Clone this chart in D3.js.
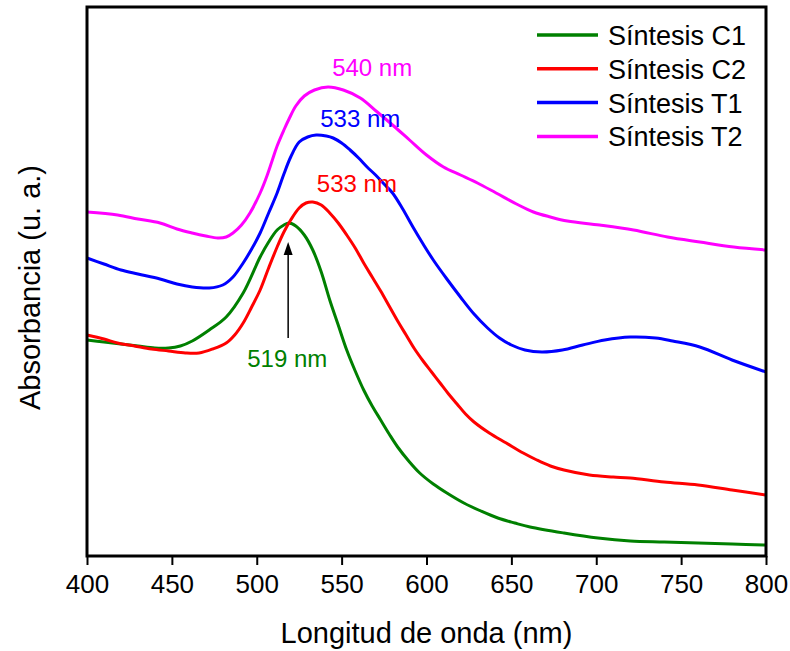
<!DOCTYPE html>
<html>
<head>
<meta charset="utf-8">
<script src="https://cdn.jsdelivr.net/npm/d3@7"></script>
<style>
  body { margin: 0; background: #fff; }
  text { font-family: 'Liberation Sans', Arial, sans-serif; }
</style>
</head>
<body>
<div class="canvas"></div>
<script>
'use strict';

// wavelength (nm) and absorbance (arbitrary units)
const wlC1 = [400, 410, 420, 430, 440, 448, 455, 462, 472, 482, 492, 502, 507, 512, 516, 519, 523, 528, 533, 538, 543, 548, 553, 558, 563, 568, 573, 578, 583, 590, 596, 604, 612, 622, 632, 642, 652, 661, 681, 701, 720, 740, 760, 780, 800];
const absC1 = [2.16, 2.14, 2.12, 2.10, 2.08, 2.08, 2.10, 2.15, 2.26, 2.39, 2.63, 2.99, 3.14, 3.26, 3.31, 3.33, 3.30, 3.21, 3.06, 2.84, 2.56, 2.31, 2.06, 1.85, 1.66, 1.50, 1.36, 1.22, 1.09, 0.94, 0.83, 0.72, 0.63, 0.53, 0.45, 0.38, 0.33, 0.29, 0.23, 0.18, 0.15, 0.14, 0.13, 0.12, 0.11];

const wlC2 = [400, 410, 418, 428, 438, 448, 458, 466, 474, 482, 487, 492, 497, 502, 507, 512, 516, 520, 525, 529, 533, 538, 543, 548, 553, 558, 563, 568, 573, 578, 583, 588, 593, 598, 603, 608, 613, 618, 623, 628, 637, 647, 657, 665, 673, 681, 696, 710, 720, 740, 760, 780, 800];
const absC2 = [2.21, 2.17, 2.13, 2.10, 2.07, 2.05, 2.03, 2.03, 2.07, 2.13, 2.21, 2.33, 2.49, 2.66, 2.88, 3.09, 3.24, 3.36, 3.48, 3.53, 3.54, 3.51, 3.43, 3.33, 3.21, 3.08, 2.93, 2.79, 2.65, 2.50, 2.35, 2.21, 2.07, 1.95, 1.84, 1.73, 1.62, 1.52, 1.42, 1.34, 1.23, 1.13, 1.03, 0.96, 0.90, 0.86, 0.81, 0.79, 0.78, 0.74, 0.71, 0.66, 0.61];

const wlT1 = [400, 410, 420, 430, 443, 453, 462, 472, 480, 486, 492, 497, 502, 507, 512, 516, 520, 525, 530, 535, 541, 545, 550, 555, 560, 565, 570, 575, 580, 586, 592, 598, 604, 612, 620, 628, 636, 643, 650, 658, 668, 680, 692, 705, 720, 735, 745, 761, 780, 800];
const absT1 = [2.98, 2.92, 2.86, 2.82, 2.77, 2.72, 2.69, 2.68, 2.71, 2.79, 2.93, 3.07, 3.23, 3.43, 3.63, 3.82, 3.99, 4.14, 4.19, 4.21, 4.20, 4.18, 4.13, 4.06, 3.98, 3.89, 3.81, 3.72, 3.63, 3.47, 3.29, 3.12, 2.96, 2.77, 2.59, 2.42, 2.28, 2.18, 2.11, 2.06, 2.04, 2.06, 2.11, 2.16, 2.19, 2.18, 2.15, 2.09, 1.96, 1.84];

const wlT2 = [400, 418, 430, 443, 453, 462, 470, 477, 482, 486, 491, 496, 502, 506, 509, 512, 516, 519, 523, 528, 534, 542, 551, 561, 571, 580, 590, 600, 610, 620, 630, 641, 653, 663, 673, 683, 702, 722, 742, 761, 781, 800];
const absT2 = [3.44, 3.41, 3.37, 3.33, 3.27, 3.23, 3.20, 3.18, 3.19, 3.23, 3.31, 3.43, 3.63, 3.80, 3.95, 4.10, 4.26, 4.37, 4.50, 4.60, 4.66, 4.69, 4.66, 4.58, 4.44, 4.31, 4.16, 4.01, 3.89, 3.81, 3.73, 3.63, 3.52, 3.44, 3.39, 3.35, 3.31, 3.26, 3.19, 3.14, 3.09, 3.06];

const seriesNames = ['Síntesis C1', 'Síntesis C2', 'Síntesis T1', 'Síntesis T2'];
const seriesColors = ['#008000', '#ff0000', '#0000ff', '#ff00ff'];
const xTicks = [400, 450, 500, 550, 600, 650, 700, 750, 800];

// peak labels: text, wavelength of label centre, absorbance of baseline
const peakLabels = ['519 nm', '533 nm', '533 nm', '540 nm'];
const peakLabelX = [518, 559, 561, 568];
const peakLabelY = [1.89, 3.64, 4.29, 4.80];

const width = 790;
const height = 651;
const margin = { top: 7, right: 24, bottom: 95, left: 87 };
const graphWidth = width - margin.left - margin.right;
const graphHeight = height - margin.top - margin.bottom;

const svg = d3
  .select('.canvas')
  .append('svg')
  .attr('width', width)
  .attr('height', height);

const graph = svg
  .append('g')
  .attr('transform', `translate(${margin.left},${margin.top})`);

const x = d3.scaleLinear().domain([400, 800]).range([0, graphWidth]);
const y = d3.scaleLinear().domain([0, 5.49]).range([graphHeight, 0]);

const series = [
  { wl: wlC1, abs: absC1 },
  { wl: wlC2, abs: absC2 },
  { wl: wlT1, abs: absT1 },
  { wl: wlT2, abs: absT2 },
].map((s, i) => ({
  name: seriesNames[i],
  color: seriesColors[i],
  points: s.wl.map((w, j) => [w, s.abs[j]]),
}));

const line = d3
  .line()
  .x(d => x(d[0]))
  .y(d => y(d[1]))
  .curve(d3.curveCatmullRom.alpha(0.5));

graph
  .selectAll('path.spectrum')
  .data(series)
  .enter()
  .append('path')
  .attr('class', 'spectrum')
  .attr('d', d => line(d.points))
  .attr('fill', 'none')
  .attr('stroke', d => d.color)
  .attr('stroke-width', 3)
  .attr('stroke-linejoin', 'round');

// x axis: major and minor ticks
const xAxisGroup = graph
  .append('g')
  .attr('transform', `translate(0, ${graphHeight})`);

xAxisGroup.call(
  d3.axisBottom(x)
    .tickValues(d3.range(425, 800, 50))
    .tickSize(5)
    .tickFormat('')
);
xAxisGroup.call(
  d3.axisBottom(x)
    .tickValues(xTicks)
    .tickSize(9)
    .tickPadding(10)
);
xAxisGroup.selectAll('.domain').remove();
xAxisGroup.selectAll('line').attr('stroke', '#000').attr('stroke-width', 2);
xAxisGroup
  .selectAll('text')
  .attr('font-size', 26)
  .attr('fill', '#000')
  .attr('font-family', "'Liberation Sans', Arial, sans-serif");

// frame
graph
  .append('rect')
  .attr('x', 0)
  .attr('y', 0)
  .attr('width', graphWidth)
  .attr('height', graphHeight)
  .attr('fill', 'none')
  .attr('stroke', '#000')
  .attr('stroke-width', 3);

// axis titles
svg
  .append('text')
  .attr('x', margin.left + graphWidth / 2)
  .attr('y', 643)
  .attr('text-anchor', 'middle')
  .attr('font-size', 29)
  .text('Longitud de onda (nm)');

svg
  .append('text')
  .attr('transform', `translate(40, ${margin.top + graphHeight / 2 + 6}) rotate(-90)`)
  .attr('text-anchor', 'middle')
  .attr('font-size', 29)
  .text('Absorbancia (u. a.)');

// peak labels
graph
  .selectAll('text.peak')
  .data(peakLabels)
  .enter()
  .append('text')
  .attr('class', 'peak')
  .attr('x', (d, i) => x(peakLabelX[i]))
  .attr('y', (d, i) => y(peakLabelY[i]))
  .attr('text-anchor', 'middle')
  .attr('font-size', 24)
  .attr('fill', (d, i) => seriesColors[i])
  .text(d => d);

// arrow pointing at the C1 maximum
const arrowX = x(518.5);
const arrowTop = y(3.14);
graph
  .append('line')
  .attr('x1', arrowX)
  .attr('x2', arrowX)
  .attr('y1', y(2.18))
  .attr('y2', arrowTop + 10)
  .attr('stroke', '#000')
  .attr('stroke-width', 1.5);
graph
  .append('path')
  .attr('d', `M${arrowX},${arrowTop} L${arrowX - 4.5},${arrowTop + 13} L${arrowX + 4.5},${arrowTop + 13} Z`)
  .attr('fill', '#000');

// legend
const legend = svg.append('g').attr('transform', 'translate(537, 35)');
const items = legend
  .selectAll('g')
  .data(series)
  .enter()
  .append('g')
  .attr('transform', (d, i) => `translate(0, ${i * 33.8})`);

items
  .append('line')
  .attr('x1', 0)
  .attr('x2', 61)
  .attr('stroke', d => d.color)
  .attr('stroke-width', 3.5);

items
  .append('text')
  .attr('x', 71)
  .attr('y', 10)
  .attr('font-size', 27)
  .text(d => d.name);
</script>
</body>
</html>
